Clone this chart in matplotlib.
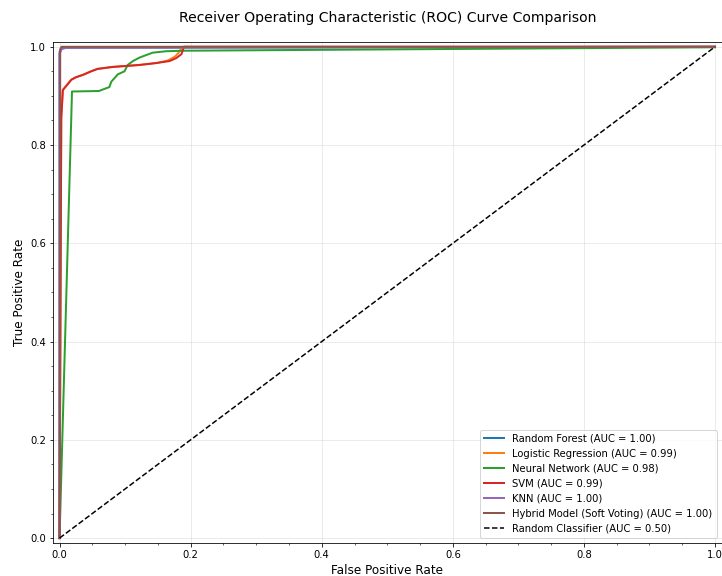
import numpy as np
import matplotlib
matplotlib.use('Agg')
import matplotlib.pyplot as plt

# ROC points
rf_fpr = [0.0, 0.0, 0.004, 1.0]
rf_tpr = [0.0, 0.990, 0.998, 1.0]

lr_fpr = [0.0, 0.0026, 0.005, 0.018, 0.025, 0.036, 0.048, 0.058, 0.081, 0.122, 0.148, 0.165, 0.176, 0.181, 0.186, 0.189, 1.0]
lr_tpr = [0.0, 0.855, 0.912, 0.933, 0.938, 0.943, 0.950, 0.955, 0.959, 0.963, 0.967, 0.972, 0.980, 0.987, 0.997, 1.0, 1.0]

nn_fpr = [0.0, 0.019, 0.060, 0.076, 0.079, 0.089, 0.099, 0.104, 0.112, 0.122, 0.142, 0.163, 0.19, 1.0]
nn_tpr = [0.0, 0.909, 0.910, 0.918, 0.929, 0.944, 0.950, 0.963, 0.971, 0.978, 0.988, 0.991, 0.992, 0.999]

svm_fpr = [0.0, 0.0026, 0.005, 0.018, 0.025, 0.036, 0.048, 0.058, 0.081, 0.122, 0.148, 0.168, 0.178, 0.186, 0.189, 0.19, 1.0]
svm_tpr = [0.0, 0.855, 0.912, 0.933, 0.938, 0.943, 0.950, 0.955, 0.959, 0.963, 0.967, 0.971, 0.977, 0.985, 0.997, 1.0, 1.0]

knn_fpr = [0.0, 0.0, 0.003, 0.01, 1.0]
knn_tpr = [0.0, 0.985, 0.995, 0.998, 1.0]

hyb_fpr = [0.0, 0.001, 0.003, 1.0]
hyb_tpr = [0.0, 0.995, 1.0, 1.0]

names = ['Random Forest', 'Logistic Regression', 'Neural Network', 'SVM', 'KNN', 'Hybrid Model (Soft Voting)']
aucs = [1.00, 0.99, 0.98, 0.99, 1.00, 1.00]
curves = [(rf_fpr, rf_tpr), (lr_fpr, lr_tpr), (nn_fpr, nn_tpr),
          (svm_fpr, svm_tpr), (knn_fpr, knn_tpr), (hyb_fpr, hyb_tpr)]

fig = plt.figure(figsize=(722/72, 576/72), dpi=72)
ax = fig.add_axes([0.0734, 0.0573, 0.926, 0.870])

for (f, t), n, a in zip(curves, names, aucs):
    ax.plot(f, t, lw=2, label='%s (AUC = %.2f)' % (n, a))

ax.plot([0, 1], [0, 1], 'k--', lw=1.5, label='Random Classifier (AUC = 0.50)')

ax.set_xlim(-0.01, 1.01)
ax.set_ylim(-0.01, 1.01)
ax.set_xlabel('False Positive Rate', fontsize=12)
ax.set_ylabel('True Positive Rate', fontsize=12)
ax.set_title('Receiver Operating Characteristic (ROC) Curve Comparison', fontsize=14, pad=20)
ax.minorticks_on()
ax.grid(True, alpha=0.3)
ax.legend(loc='lower right', fontsize=10)

fig.savefig('out.png', dpi=72)
